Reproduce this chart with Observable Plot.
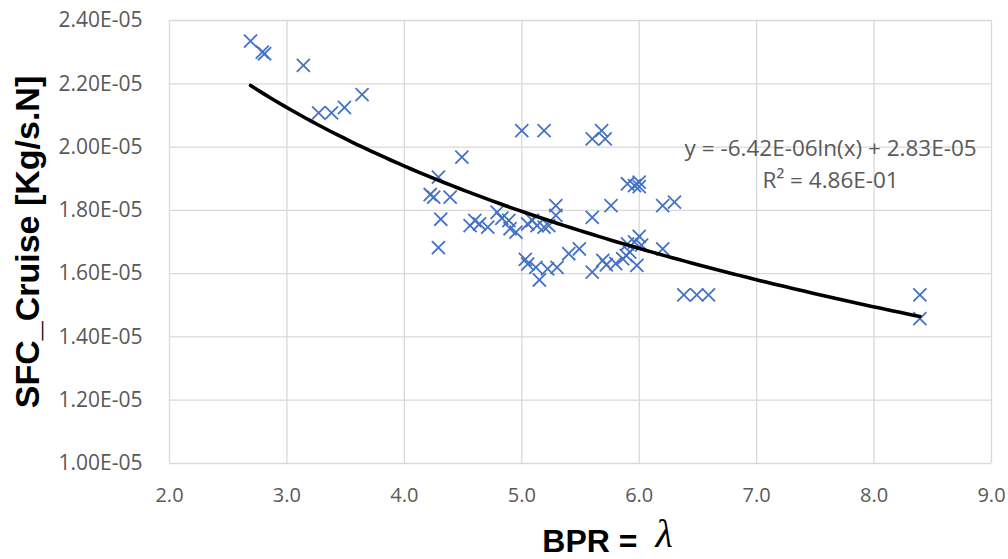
<!DOCTYPE html>
<html>
<head>
<meta charset="utf-8">
<script src="https://cdn.jsdelivr.net/npm/d3@7"></script>
<script src="https://cdn.jsdelivr.net/npm/@observablehq/plot@0.6"></script>
<style>
  html, body { margin: 0; padding: 0; background: #fff; }
  #chart svg { display: block; }
</style>
</head>
<body>
<div id="chart"></div>
<script>
// BPR (x) values
const bpr = [
  2.69, 2.79, 2.81, 3.14, 3.27, 3.38, 3.49, 3.64,
  4.49, 5.00, 5.19, 5.60, 5.68, 5.71,
  4.29, 4.22, 4.25, 4.39, 4.31, 4.29,
  4.56, 4.60, 4.64, 4.71, 4.79, 4.83, 4.89, 4.90, 4.95,
  5.05, 5.09, 5.13, 5.19, 5.23, 5.29, 5.29, 5.60, 5.76,
  5.90, 5.96, 6.00, 6.00, 6.20, 6.30, 6.00, 5.90, 5.96, 6.02, 6.20,
  5.03, 5.05, 5.12, 5.15, 5.22, 5.30, 5.40, 5.49, 5.60, 5.69, 5.72,
  5.80, 5.86, 5.89, 5.92, 5.98, 6.38, 6.49, 6.59, 8.39, 8.39
];
// SFC cruise (y) values, kg/(s·N)
const sfc = [
  2.335e-5, 2.300e-5, 2.295e-5, 2.258e-5, 2.108e-5, 2.108e-5, 2.125e-5, 2.166e-5,
  1.968e-5, 2.052e-5, 2.052e-5, 2.026e-5, 2.052e-5, 2.026e-5,
  1.905e-5, 1.850e-5, 1.842e-5, 1.842e-5, 1.772e-5, 1.682e-5,
  1.752e-5, 1.768e-5, 1.757e-5, 1.747e-5, 1.794e-5, 1.775e-5, 1.768e-5, 1.742e-5, 1.731e-5,
  1.757e-5, 1.768e-5, 1.752e-5, 1.747e-5, 1.752e-5, 1.815e-5, 1.784e-5, 1.778e-5, 1.815e-5,
  1.884e-5, 1.878e-5, 1.889e-5, 1.875e-5, 1.815e-5, 1.826e-5, 1.718e-5, 1.694e-5, 1.700e-5, 1.690e-5, 1.678e-5,
  1.645e-5, 1.630e-5, 1.620e-5, 1.580e-5, 1.615e-5, 1.620e-5, 1.663e-5, 1.678e-5, 1.605e-5, 1.642e-5, 1.628e-5,
  1.632e-5, 1.647e-5, 1.657e-5, 1.668e-5, 1.626e-5, 1.533e-5, 1.533e-5, 1.533e-5, 1.533e-5, 1.458e-5
];
// Logarithmic trendline coefficients: y = a*ln(x) + b
const trendCoef = [-6.42e-6, 2.83e-5];
const trendLabel = ["y = -6.42E-06ln(x) + 2.83E-05", "R² = 4.86E-01"];
const xTicks = [2, 3, 4, 5, 6, 7, 8, 9];
const yTicks = [1.0e-5, 1.2e-5, 1.4e-5, 1.6e-5, 1.8e-5, 2.0e-5, 2.2e-5, 2.4e-5];
const xLabel = ["BPR =", "λ"];
const yLabel = "SFC_Cruise [Kg/s.N]";

const points = bpr.map((x, i) => ({x, y: sfc[i]}));
const x0 = d3.min(bpr), x1 = d3.max(bpr);
const trend = d3.range(0, 101).map(i => {
  const x = x0 + (x1 - x0) * i / 100;
  return {x, y: trendCoef[0] * Math.log(x) + trendCoef[1]};
});

const tickFont = "'Open Sans', sans-serif";
const grey = "#595959";
const fmtX = d => d.toFixed(1);
const fmtY = d => (d * 1e5).toFixed(2) + "E-05";

const chart = Plot.plot({
  width: 1008,
  height: 559,
  marginLeft: 169,
  marginRight: 17,
  marginTop: 20,
  marginBottom: 96,
  style: {background: "#fff", fontFamily: tickFont},
  x: {domain: [2, 9], ticks: xTicks, tickFormat: fmtX},
  y: {domain: [1.0e-5, 2.4e-5], ticks: yTicks, tickFormat: fmtY},
  marks: [
    Plot.gridX(xTicks, {stroke: "#d9d9d9", strokeOpacity: 1, strokeWidth: 1.3}),
    Plot.gridY(yTicks, {stroke: "#d9d9d9", strokeOpacity: 1, strokeWidth: 1.3}),
    Plot.axisX(xTicks, {tickSize: 0, tickPadding: 24, fontSize: 20, fill: grey, label: null, tickFormat: fmtX}),
    Plot.axisY(yTicks, {tickSize: 0, tickPadding: 27, fontSize: 21, fill: grey, label: null, tickFormat: fmtY}),
    Plot.dot(points, {x: "x", y: "y", symbol: "times", r: 6, stroke: "#4472C4", strokeWidth: 1.8}),
    Plot.line(trend, {x: "x", y: "y", stroke: "#000", strokeWidth: 3.6, curve: "linear"}),
    Plot.text([trendLabel[0]], {x: 7.63, y: 1.995e-5, text: d => d, fontSize: 22.5, fill: grey, fontFamily: tickFont}),
    Plot.text([trendLabel[1]], {x: 7.63, y: 1.894e-5, text: d => d, fontSize: 22.5, fill: grey, fontFamily: tickFont}),
    Plot.text([yLabel], {frameAnchor: "left", dx: -141, rotate: -90, textAnchor: "middle", lineAnchor: "middle", text: d => d, fontSize: 34, fontWeight: "bold", fill: "#000", fontFamily: "'Liberation Sans', Arial, sans-serif"}),
    Plot.text([xLabel[0]], {frameAnchor: "bottom", dx: 57, dy: 78, textAnchor: "end", lineAnchor: "middle", text: d => d, fontSize: 32, fontWeight: "bold", fill: "#000", fontFamily: "'Liberation Sans', Arial, sans-serif"}),
    Plot.text([xLabel[1]], {frameAnchor: "bottom", dx: 75, dy: 71, textAnchor: "start", lineAnchor: "middle", text: d => d, fontSize: 40, fontStyle: "italic", fill: "#000", fontFamily: "'Liberation Serif', 'DejaVu Serif', serif"})
  ]
});
document.getElementById("chart").appendChild(chart);
</script>
</body>
</html>
